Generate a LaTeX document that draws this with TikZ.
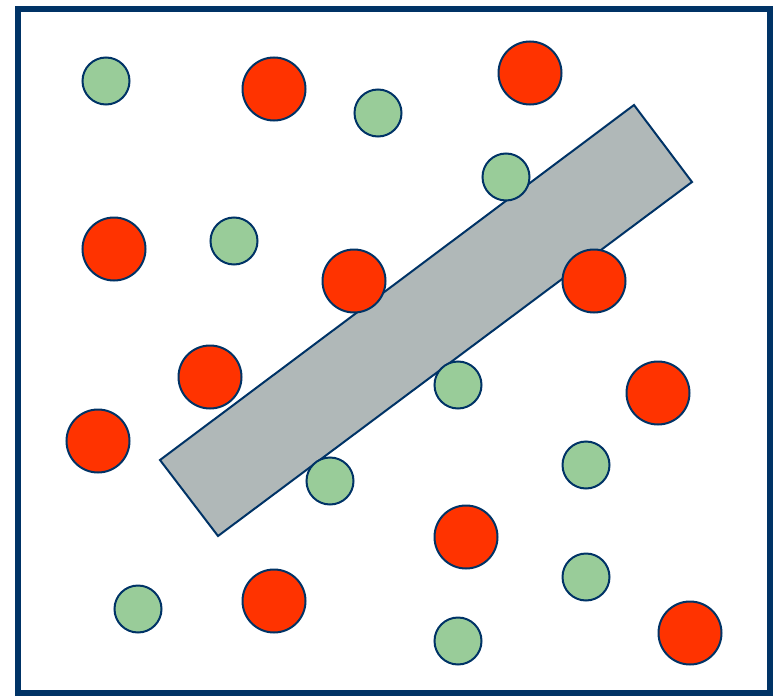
\documentclass[tikz,border=0pt]{standalone}
\usepackage{xcolor}
\usepackage{tikz}
\definecolor{navyline}{HTML}{003366}
\definecolor{hotred}{HTML}{FF3300}
\definecolor{softgreen}{HTML}{99CC99}
\definecolor{bargray}{HTML}{B0B8B8}
\tikzset{
  redball/.style={circle,draw=navyline,fill=hotred,line width=2pt,
    minimum size=63pt,inner sep=0pt},
  greenball/.style={circle,draw=navyline,fill=softgreen,line width=2pt,
    minimum size=47pt,inner sep=0pt}
}
\begin{document}
\begin{tikzpicture}[x=1pt,y=-1pt]
  \useasboundingbox (0,0) rectangle (777,696);
  \draw[navyline,line width=6pt] (18,9) rectangle (769.5,693);
  % the slanted bar
  \draw[navyline,line width=2pt,fill=bargray,line join=miter]
    (160,460) -- (634,105) -- (692,182) -- (218,536) -- cycle;
  \foreach \x/\y [count=\i] in {274/89,530/73,114/249,354/281,594/281,
      210/377,98/441,658/393,466/537,274/601,690/633}
    \node[redball] (red\i) at (\x,\y) {};
  \foreach \x/\y [count=\i] in {106/81,378/113,506/177,234/241,458/385,
      586/465,330/481,586/577,138/609,458/641}
    \node[greenball] (green\i) at (\x,\y) {};
\end{tikzpicture}
\end{document}
